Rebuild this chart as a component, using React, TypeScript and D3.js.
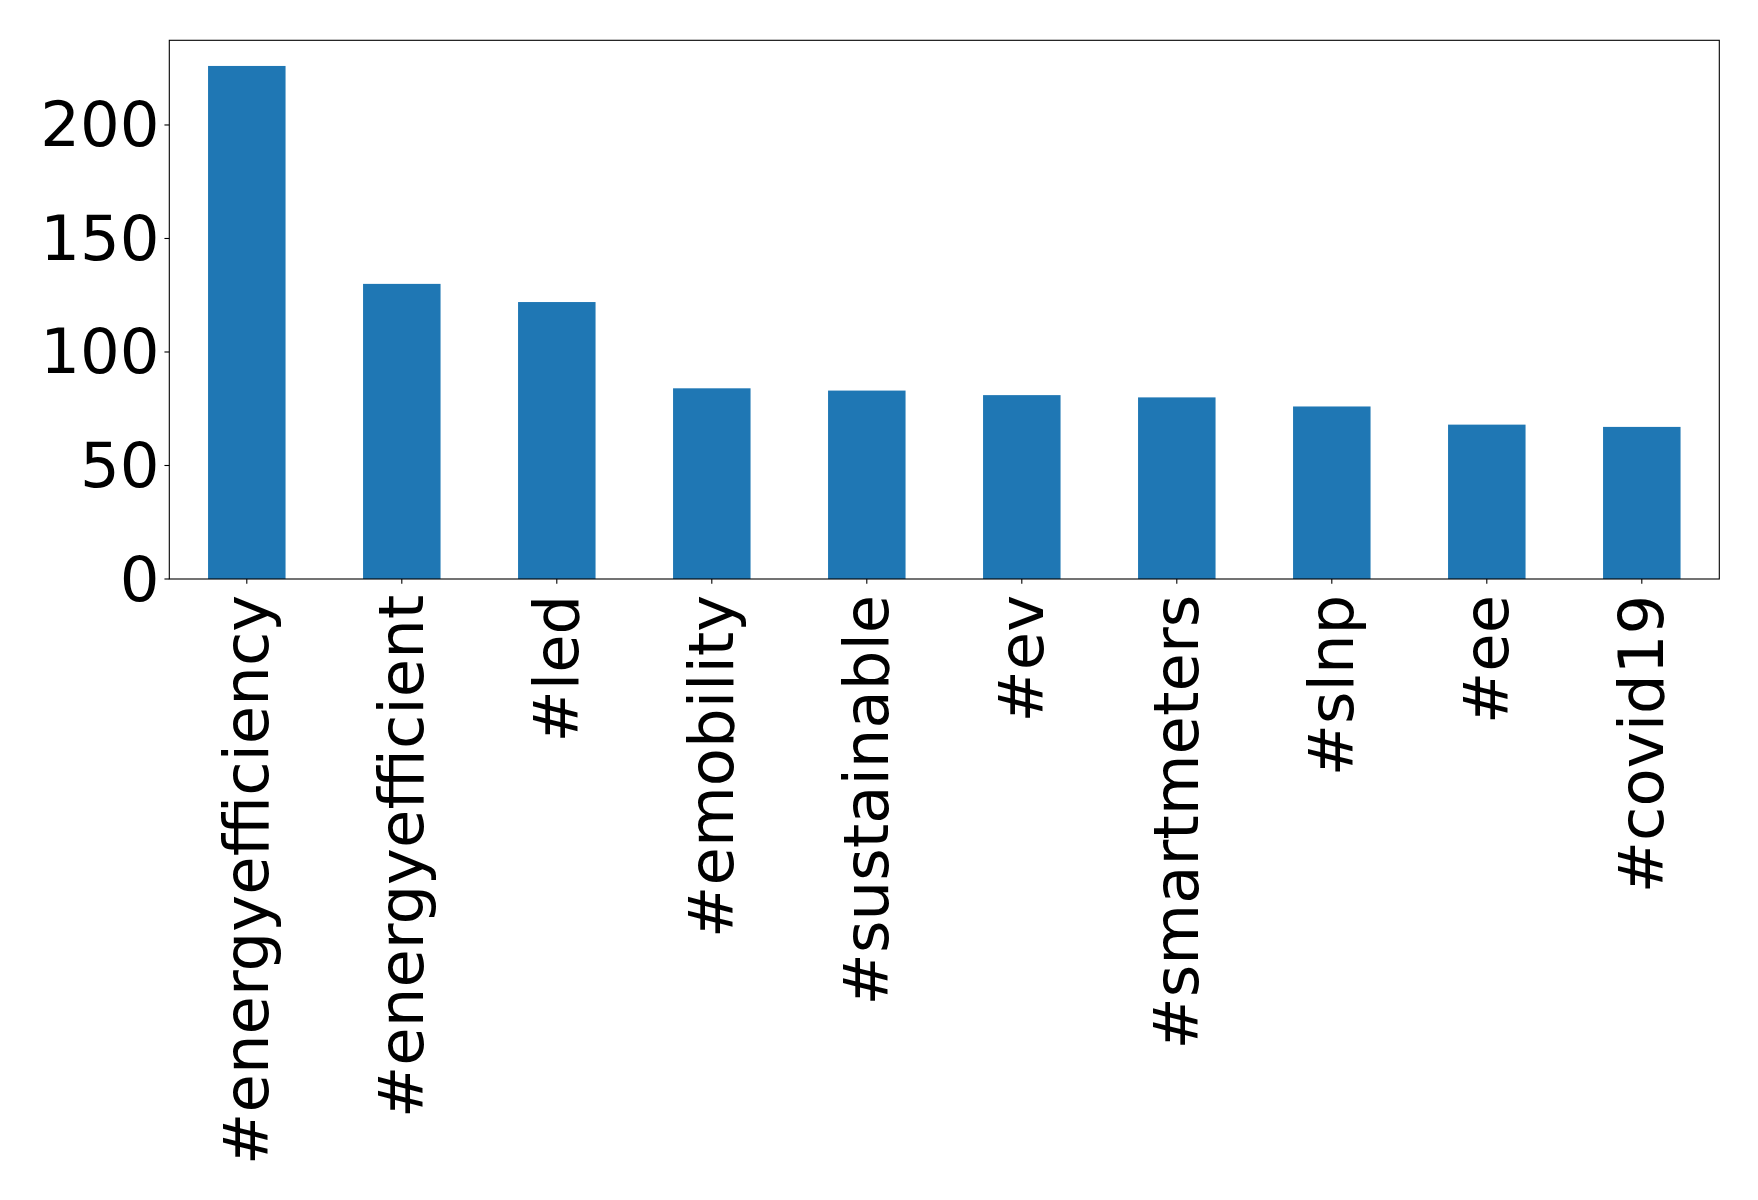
import React, { useEffect } from "react";
import * as d3 from "d3";

const categories = [
  "#energyefficiency",
  "#energyefficient",
  "#led",
  "#emobility",
  "#sustainable",
  "#ev",
  "#smartmeters",
  "#slnp",
  "#ee",
  "#covid19",
];
const values = [226, 130, 122, 84, 83, 81, 80, 76, 68, 67];
const yTicks = [0, 50, 100, 150, 200];

const W = 1758;
const H = 1200;
const margin = { left: 169.3, right: 1719.3, top: 40.3, bottom: 579 };
const FONT = "'DejaVu Sans', sans-serif";
const FS = 62.5;

export default function App() {
  useEffect(() => {
    document.body.style.margin = "0";
  }, []);

  const x = d3
    .scaleBand<string>()
    .domain(categories)
    .range([margin.left, margin.right])
    .paddingInner(0.5)
    .paddingOuter(0.25);
  const ymax = d3.max(values)! * 1.05;
  const y = d3.scaleLinear().domain([0, ymax]).range([margin.bottom, margin.top]);
  const tickLen = 4.86;
  const pad = 4.86;

  return (
    <svg width={W} height={H} style={{ display: "block", background: "#fff" }}>
      <rect x={0} y={0} width={W} height={H} fill="#fff" />
      {categories.map((c, i) => (
        <rect
          key={c}
          x={x(c)!}
          y={y(values[i])}
          width={x.bandwidth()}
          height={y(0) - y(values[i])}
          fill="#1f77b4"
        />
      ))}
      <rect
        x={margin.left}
        y={margin.top}
        width={margin.right - margin.left}
        height={margin.bottom - margin.top}
        fill="none"
        stroke="#000"
        strokeWidth={1.1}
      />
      {yTicks.map((t) => (
        <g key={t}>
          <line x1={margin.left - tickLen} x2={margin.left} y1={y(t)} y2={y(t)} stroke="#000" strokeWidth={1.1} />
          <text
            x={margin.left - tickLen - pad}
            y={y(t)}
            textAnchor="end"
            dominantBaseline="central"
            fontFamily={FONT}
            fontSize={FS}
            fill="#000"
          >
            {t}
          </text>
        </g>
      ))}
      {categories.map((c) => {
        const cx = x(c)! + x.bandwidth() / 2;
        const ty = margin.bottom + tickLen + pad + 6;
        return (
          <g key={c}>
            <line x1={cx} x2={cx} y1={margin.bottom} y2={margin.bottom + tickLen} stroke="#000" strokeWidth={1.1} />
            <text
              transform={`translate(${cx},${ty}) rotate(-90)`}
              textAnchor="end"
              dominantBaseline="central"
              fontFamily={FONT}
              fontSize={FS}
              fill="#000"
            >
              {c}
            </text>
          </g>
        );
      })}
    </svg>
  );
}
